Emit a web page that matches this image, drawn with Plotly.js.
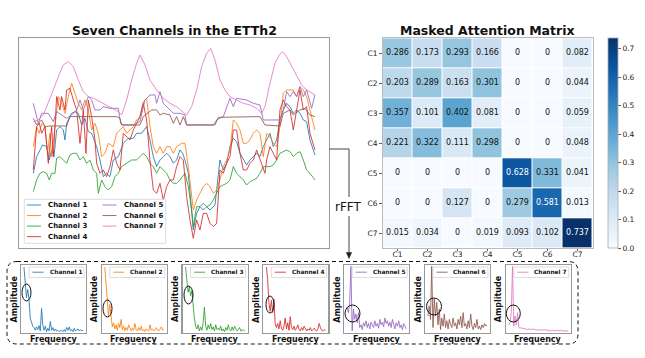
<!DOCTYPE html>
<html><head><meta charset="utf-8">
<script src="https://cdn.plot.ly/plotly-3.0.1.min.js"></script>
<style>html,body{margin:0;padding:0;background:#fff;}#chart{width:645px;height:358px;}</style>
</head><body><div id="chart"></div>
<script>
// ---------------- DATA ----------------
const channelNames = ['Channel 1','Channel 2','Channel 3','Channel 4','Channel 5','Channel 6','Channel 7'];
const channelColors = ['#1f77b4','#ff7f0e','#2ca02c','#d62728','#9467bd','#8c564b','#e377c2'];

const ch1T = [0,2,5.6,8,9.6,11,12.4,14,16,18,19,20,23,25,27,29,31,33,35,38,40,42,44,46,48,51,54,57,60,62,65,68,70,72,74,76,78,80,82,84,86,88,89.6,91,93,95,96,98,100,102,104,106,109,112,114,116,118,120,122,124,126,128,130,132,134,136,138,140,142,144,146,148,150,152,154,156,158,160,162,164,166,169];
const ch1V = [23,28,31.5,31,27,30,28,36,37,36,33,38,41,41.5,41,37.5,39.5,35.5,35,31,27,22,23,22,27,28,32,33.5,33.5,35,35,37,33,28,25,27,28,29,28,26,27,30,29,27,23,12.5,6,11,13,12,13,12,13.5,27,24,26,31,33.5,32.5,29,27,25.5,27,28,29,28,31,33,35,31,33,39,42,44,43,41,42,41,39,38.5,33,28.5];

const ch2T = [0,2,3.6,5,7,8.6,10,11,13,15,17,19,21,23,25,27,29,31,33,35,37,39,41,43,45,48,50,52,54,56,60,62,64,66,68,70,72,74,76,78,80,82,84,86,89,91,93,96,98,100,102,104,106,108,110,112,114,116,118,120,122,124,126,128,130,132,134,136,138,140,142,144,146,148,150,152,154,156,158,160,162,164,166,169];
const ch2V = [31,37,35,38,37,29.5,35,28,37,46,44,41,46,50,47,44,42,45,42,36,38,35,28,29,32,31,35,36,37,35,37,39,40,44.5,45.5,37,31,29,31,29,31,31,29,31,32,32,25,12,15,17,19,20,19,17,18,21,25,27,30,39,38,36,32,32,33,35,36,35,28,35,34,32,31,37,47,48,48,48,46,49,48,46,42,36];

const ch3T = [0,2,4,6,8,9.6,11,13,14,16,18,20,22,24,26,28,30,32,34,36,38,39,41,43,45,47,49,51,53,56,59,62,64,66,68,70,72,74,76,78,80,82,84,86,88,91,93,95,96,98,100,102,104,106,108,110,112,114,116,118,120,122,124,126,128,130,132,134,136,138,140,142,144,146,148,150,152,154,156,158,160,162,164,166,169];
const ch3V = [17.5,21,23,23.5,23,21,23,23,27.5,28,27,26,28.5,29,29,27,28,26,27,24,23,17,21,19,18,19,22,23,25,26,27,27,28,29,28,26,25,23,25,24,23,21,20,20,21,23,19,12,7,13,13,14,13,13.5,15,17,19,19.5,20,21,25,23,22,21,19.5,20.5,21,21.5,23,25,25,25,25.5,27,29,29.5,30,29.5,28,29,29.5,27,24,23,21];

const ch4T = [0,2,3.6,5,7,9,11,12,14,16,17,19,20,22,24,26,28,30,31.6,33,35,37,38,40,42,44,46,48,50,52,54,56,58,60,62,64,66,68,70,72,74,76,78,80,82,84,86,88,90,92,94,96,98,100,102,104,106,108,110,112,114,116,118,120,122,124,126,128,130,132,134,136,139,140,142,144,146,148,150,152,154,156,158,160,162,164,166,169];
const ch4V = [24,37,38,35,37,26,37,28,46,42,46,42,48,48.5,45,42,32,42,29,45,40,33,26,23,24,22,25,30,26,24,35,34,33,36,38,40,44,39,27,18,17,20,15,19,21,21,25,28,27,16,9,3.5,9,6,11,11,8,7,8,24,23,26,28,36,36,29,24,24,26,27,30,27,23,27,31,29,27,42,45,43,42,36,42,48,42,43,35,30];

const ch5T = [0,3,5,9,12,14,17,20,23,26,28,30,33,35,37,40,42,46,51,52.4,54,60,64,67,70,73,74,76,78,80,84,88,91,92,108,110,114,118,120,122,128,132,136,138,146,148,150,152,154,156,158,160,162,164,167,169];
const ch5V = [44,38,41,41,38.5,41.5,40.5,39.5,40.5,42,45,42,46,45,42,42,43,42.5,42.5,38,37.5,37.5,38.5,45,46.5,46.5,44,47.5,44,43,41,41,40.5,37.5,37.5,39,40,45.5,43,45.5,45,44,43.5,39,39,39,42,47.5,46,47.5,46,49,46,48,42.5,46.5];

const ch6T = [0,2,5,7,10,20,22,26,40,50,52,53,64,66,71,74,76,78,82,84,86,88,90,92,109,111,136,139,148,150,154,156,160,163,166,169];
const ch6V = [39.5,37.5,39,37,37.2,37.2,40,40,40,40,39.5,37.5,37.5,40,42,42,40.5,41,40.5,38,40,37.5,40,37.5,37.5,39.8,40,37.5,37.2,41,42,40.5,42,42.5,40.5,40];

const ch7T = [0,3,6,9,12,15,18,21,24,27,30,33,36,40,44,48,51,53,56,59,62,64,67,70,74,78,82,86,90,92,95,98,101,104,106.4,109,112,115,118,122,126,130,134,137,139,142,145,147.6,149.6,152,155,158,161,164,167,169];
const ch7V = [38.5,39,40.5,44,48,52,55.5,56.5,55,51,47.5,46,45.5,44.5,43.5,42.5,41.5,40.5,45,51,56,58.5,55.5,51,48,45.5,44,43,41.5,40.5,43,48,55,59,60.5,57,51,48,46,45,44,43.5,42.5,41,43,50,56,58.5,59.5,58,55,52,49.5,48,47,46.5];

const heatLabels = ['C1','C2','C3','C4','C5','C6','C7'];
const attention = [
  [0.286,0.173,0.293,0.166,0,0,0.082],
  [0.203,0.289,0.163,0.301,0,0,0.044],
  [0.357,0.101,0.402,0.081,0,0,0.059],
  [0.221,0.322,0.111,0.298,0,0,0.048],
  [0,0,0,0,0.628,0.331,0.041],
  [0,0,0.127,0,0.279,0.581,0.013],
  [0.015,0.034,0,0.019,0.093,0.102,0.737]
];

const fftCh1 = [97,68,52,64,50,22,14,10,8,4,9,5,11,3,36,12,4,10,2,7,3,17,4,8,3,6,3,4,2,3,4,2,5,2,8,4,9,3,5,2,7,3,4,6,3,5,3,4];
const fftCh2 = [97,74,38,25,42,28,9,15,6,12,4,14,8,20,5,10,3,8,4,12,6,3,7,4,14,5,3,8,4,10,3,5,2,6,4,3,12,4,6,3,5,8,4,3,6,9,4,6];
const fftCh3 = [97,78,60,68,55,62,38,22,10,6,12,3,9,4,15,38,10,4,12,6,14,5,9,3,12,5,7,4,10,3,6,2,8,4,12,5,3,9,4,10,6,3,5,8,3,4,5,3];
const fftCh4 = [97,80,45,32,48,30,50,14,8,14,6,18,7,4,10,22,6,15,4,24,8,5,10,4,7,12,5,3,8,4,10,5,3,6,4,8,3,5,7,4,3,6,14,8,4,3,5,4];
const fftCh5 = [38,30,45,98,3,35,20,28,15,30,8,12,5,15,10,18,8,14,6,16,12,8,18,10,14,7,20,12,16,9,22,14,18,10,16,8,20,12,6,15,10,18,8,12,5,14,9,6];
const fftCh6 = [25,40,20,98,8,50,25,45,12,35,5,22,10,28,8,18,6,20,12,8,22,10,15,6,20,12,25,8,30,10,14,6,18,8,28,10,5,14,8,20,6,10,5,12,8,14,10,12];
const fftCh7 = [12,15,30,98,10,25,12,30,8,7,8,6,7,6,6,5,6,5,5,6,5,5,4,5,4,5,4,4,5,4,4,4,3,4,3,4,3,3,4,3,3,4,3,3,3,3,3,3];

// ---------------- LAYOUT HELPERS ----------------
const W = 645, H = 358, FONT = 'DejaVu Sans';
const px = x => x / W, py = y => 1 - y / H;
const seriesT = [ch1T,ch2T,ch3T,ch4T,ch5T,ch6T,ch7T];
const seriesV = [ch1V,ch2V,ch3V,ch4V,ch5V,ch6V,ch7V];
const ffts = [fftCh1,fftCh2,fftCh3,fftCh4,fftCh5,fftCh6,fftCh7];

const traces = [];
seriesT.forEach((t, i) => {
  traces.push({type:'scatter', mode:'lines', x:t, y:seriesV[i], xaxis:'x', yaxis:'y',
    line:{color:channelColors[i], width:1}, opacity:0.85, showlegend:false, hoverinfo:'skip'});
});

traces.push({type:'heatmap', z:attention, x:heatLabels, y:heatLabels, xaxis:'x2', yaxis:'y2',
  zmin:0, zmax:Math.max(...attention.flat()), xgap:1, ygap:1, hoverinfo:'skip',
  colorscale:[[0,'#f7fbff'],[0.125,'#deebf7'],[0.25,'#c6dbef'],[0.375,'#9ecae1'],[0.5,'#6baed6'],[0.625,'#4292c6'],[0.75,'#2171b5'],[0.875,'#08519c'],[1,'#08306b']],
  colorbar:{x:px(607.7), xanchor:'left', xpad:0, ypad:0, y:py(143.3), yanchor:'middle', len:210, lenmode:'pixels',
    thickness:9.6, thicknessmode:'pixels', outlinewidth:0.8, outlinecolor:'#aaa', ticks:'outside', ticklen:3, tickwidth:0.8,
    tickcolor:'#333', tickfont:{family:FONT, size:7.5, color:'#222'}, tick0:0, dtick:0.1, tickformat:'.1f'}
});
const tx = [], ty = [], tt = [], tc = [];
attention.forEach((row, r) => row.forEach((v, c) => {
  tx.push(heatLabels[c]); ty.push(heatLabels[r]); tt.push(String(v)); tc.push(v > 0.5 ? '#ffffff' : '#111111');
}));
traces.push({type:'scatter', mode:'text', x:tx, y:ty, text:tt, xaxis:'x2', yaxis:'y2',
  textfont:{family:FONT, size:8, color:tc}, textposition:'middle center', showlegend:false, hoverinfo:'skip'});

const layout = {
  width:W, height:H, margin:{l:0,r:0,t:0,b:0}, paper_bgcolor:'#fff', plot_bgcolor:'#fff', showlegend:false,
  font:{family:FONT},
  xaxis:{domain:[px(19.3),px(329.3)], range:[-8.4,177.6], anchor:'y', showline:true, mirror:true, linecolor:'#999', linewidth:1,
    showticklabels:false, ticks:'', showgrid:false, zeroline:false},
  yaxis:{domain:[py(248.3),py(38.3)], range:[0.5,63.5], anchor:'x', showline:true, mirror:true, linecolor:'#999', linewidth:1,
    showticklabels:false, ticks:'', showgrid:false, zeroline:false},
  xaxis2:{domain:[px(382.5),px(592.5)], anchor:'y2', type:'category', range:[-0.5,6.5], showline:true, mirror:true, linecolor:'#bbb', linewidth:1,
    ticks:'outside', ticklen:2, tickwidth:0.8, tickcolor:'#333', ticklabelstandoff:-3, tickfont:{family:FONT, size:7.5, color:'#222'}, showgrid:false, zeroline:false},
  yaxis2:{domain:[py(248.3),py(38.3)], anchor:'x2', type:'category', range:[6.5,-0.5], showline:true, mirror:true, linecolor:'#bbb', linewidth:1,
    ticks:'outside', ticklen:2.5, tickwidth:0.8, tickcolor:'#333', tickfont:{family:FONT, size:7.5, color:'#222'}, showgrid:false, zeroline:false},
  shapes:[], annotations:[]
};

function txt(x, y, text, size, opts) {
  return Object.assign({xref:'paper', yref:'paper', x:px(x), y:py(y), text:text, showarrow:false,
    xanchor:'center', yanchor:'middle', font:{family:FONT, size:size, color:'#111'}}, opts || {});
}
function line(x0, y0, x1, y1, color, width, extra) {
  return Object.assign({type:'line', xref:'paper', yref:'paper', x0:px(x0), y0:py(y0), x1:px(x1), y1:py(y1),
    line:{color:color, width:width}, layer:'above'}, extra || {});
}
function rect(x0, y0, x1, y1, color, width, fill) {
  return {type:'rect', xref:'paper', yref:'paper', x0:px(x0), y0:py(y0), x1:px(x1), y1:py(y1),
    line:{color:color, width:width}, fillcolor:fill, layer:'above'};
}

// titles
layout.annotations.push(txt(174.3, 31, '<b>Seven Channels in the ETTh2</b>', 12.5));
layout.annotations.push(txt(487.5, 31, '<b>Masked Attention Matrix</b>', 12.5));

// main legend
layout.shapes.push(rect(24.3, 199.3, 165.7, 243.3, '#d4d4d4', 0.8, 'rgba(255,255,255,0.85)'));
channelNames.forEach((n, i) => {
  const col = i < 4 ? 0 : 1, row = i < 4 ? i : i - 4;
  const lx = col === 0 ? 27 : 102.5, yy = 205 + row * 10.55;
  layout.shapes.push(line(lx, yy, lx + 14, yy, channelColors[i], 1, {opacity:0.85}));
  layout.annotations.push(txt(lx + 19, yy, '<b>' + n + '</b>', 7, {xanchor:'left'}));
});

// connector + rFFT
layout.shapes.push(line(329.3, 149, 349, 149, '#444', 1));
layout.shapes.push(line(349, 149, 349, 197, '#444', 1));
layout.shapes.push(line(349, 216, 349, 254, '#444', 1));
layout.shapes.push({type:'path', xref:'paper', yref:'paper', layer:'above',
  path:`M ${px(346.3)} ${py(252.5)} L ${px(351.7)} ${py(252.5)} L ${px(349)} ${py(258.5)} Z`,
  fillcolor:'#222', line:{color:'#222', width:0.5}});
layout.annotations.push(txt(348, 206.5, 'rFFT', 12, {font:{family:FONT, size:12, color:'#111'}}));

// dashed rounded box
(function(){
  const L = 7, R = 578, T = 261.5, B = 344, r = 10;
  const P = (x, y) => px(x) + ' ' + py(y);
  const path = `M ${P(L + r, T)} L ${P(R - r, T)} Q ${P(R, T)} ${P(R, T + r)} L ${P(R, B - r)} Q ${P(R, B)} ${P(R - r, B)} ` +
    `L ${P(L + r, B)} Q ${P(L, B)} ${P(L, B - r)} L ${P(L, T + r)} Q ${P(L, T)} ${P(L + r, T)} Z`;
  layout.shapes.push({type:'path', xref:'paper', yref:'paper', path:path, layer:'below',
    line:{color:'#111', width:1, dash:'4px,3px'}});
})();

// FFT panels
const panelLeft0 = 21, panelStep = 80.8, panelW = 65, panelTop = 265, panelBot = 333;
const ellipsePx = [[22,284,31,301],[103,300,112,317],[184,286,193,304],[266,296,274,313],[345,305,360,322],[426.5,298,441.5,315],[506.3,305,520.3,322]];
ffts.forEach((f, i) => {
  const n = i + 3, L = panelLeft0 + panelStep * i, R = L + panelW;
  layout['xaxis' + n] = {domain:[px(L), px(R)], anchor:'y' + n, range:[-2.35, 49.35], showline:true, mirror:true,
    linecolor:'#999', linewidth:1.2, showticklabels:false, ticks:'', showgrid:false, zeroline:false};
  layout['yaxis' + n] = {domain:[py(panelBot), py(panelTop)], anchor:'x' + n, range:[0, 100], showline:true, mirror:true,
    linecolor:'#999', linewidth:1.2, showticklabels:false, ticks:'', showgrid:false, zeroline:false};
  traces.push({type:'scatter', mode:'lines', x:f.map((_, k) => k), y:f, xaxis:'x' + n, yaxis:'y' + n,
    line:{color:channelColors[i], width:1}, opacity:0.85, showlegend:false, hoverinfo:'skip'});
  // legend box
  const bR = R - 2, bL = bR - 55;
  layout.shapes.push(rect(bL, 267, bR, 277.5, '#d4d4d4', 0.8, 'rgba(255,255,255,0.85)'));
  layout.shapes.push(line(bL + 3.5, 272.2, bL + 14.5, 272.2, channelColors[i], 1, {opacity:0.85}));
  layout.annotations.push(txt(bL + 18.5, 272.2, '<b>' + channelNames[i] + '</b>', 5.8, {xanchor:'left'}));
  // axis labels
  layout.annotations.push(txt((L + R) / 2, 339.5, '<b>Frequency</b>', 8));
  layout.annotations.push(txt(L - 7.5, (panelTop + panelBot) / 2, '<b>Amplitude</b>', 8, {textangle:-90}));
  // ellipse
  const e = ellipsePx[i];
  layout.shapes.push({type:'circle', xref:'paper', yref:'paper', x0:px(e[0]), y0:py(e[1]), x1:px(e[2]), y1:py(e[3]),
    line:{color:'#111', width:1}, layer:'above'});
});

Plotly.newPlot('chart', traces, layout, {staticPlot:true, displayModeBar:false});
</script>
</body></html>
